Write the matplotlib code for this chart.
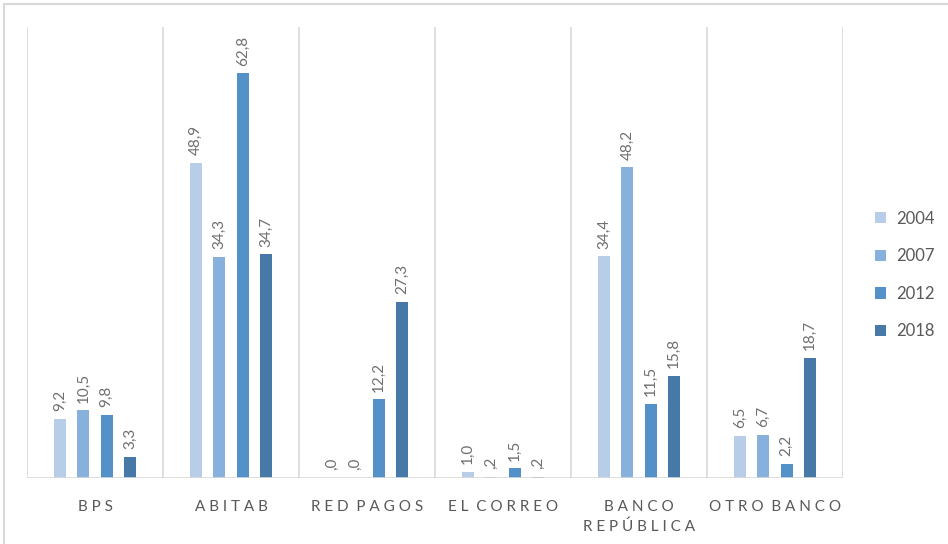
import matplotlib
matplotlib.use("Agg")
from matplotlib import pyplot as plt
from matplotlib.patches import Rectangle
import numpy as np

# Data
categories = ["B P S", "A B I T A B", "R E D  P A G O S", "E L  C O R R E O",
              "B A N C O\nR E P Ú B L I C A", "O T R O  B A N C O"]
years = ["2004", "2007", "2012", "2018"]
v2004 = [9.2, 48.9, 0.0, 1.0, 34.4, 6.5]
v2007 = [10.5, 34.3, 0.0, 0.2, 48.2, 6.7]
v2012 = [9.8, 62.8, 12.2, 1.5, 11.5, 2.2]
v2018 = [3.3, 34.7, 27.3, 0.2, 15.8, 18.7]
series = [v2004, v2007, v2012, v2018]
colors = ["#B8CDE8", "#88B0DD", "#5591C9", "#4678A8"]

plt.rcParams['font.family'] = ['Lato', 'DejaVu Sans']
grey = "#595959"
line_col = "#D9D9D9"


def fmt(v):
    s = f"{v:.1f}".replace('.', ',')
    if s.startswith("0,"):
        s = s[1:]
    return s


fig = plt.figure(figsize=(9.48, 5.44), dpi=100)
ax = fig.add_axes([27/948, 66/544, 816/948, 451/544])

x = np.arange(len(categories))
step = 0.171
width = 0.09
for i, vals in enumerate(series):
    pos = x + (i - 1.5) * step
    ax.bar(pos, vals, width=width, color=colors[i], label=years[i], zorder=3)
    for p, v in zip(pos, vals):
        ax.text(p, v + 1.2, fmt(v), rotation=90, ha='center', va='bottom',
                color="#6F6F6F", fontsize=11)

# separators and baseline
for b in np.arange(len(categories) + 1) - 0.5:
    ax.axvline(b, color=line_col, lw=1.2, zorder=1)
ax.axhline(0, color=line_col, lw=1.2, zorder=4)

ax.set_xlim(-0.5, len(categories) - 0.5)
ax.set_ylim(0, 70)
ax.set_yticks([])
ax.set_xticks(x)
ax.set_xticklabels(categories, color=grey, fontsize=11, linespacing=1.5)
ax.tick_params(axis='x', length=0, pad=16)
for s in ax.spines.values():
    s.set_visible(False)

leg = ax.legend(loc='center left', bbox_to_anchor=(875/948, 1 - 275/544),
                bbox_transform=fig.transFigure, frameon=False, fontsize=12,
                handlelength=0.65, handleheight=0.65, handletextpad=0.6,
                labelspacing=1.3, borderpad=0, borderaxespad=0)
for t in leg.get_texts():
    t.set_color(grey)

# outer chart border (top and left visible)
fig.patches.append(Rectangle((4/948, -0.1), 1.2, 1 - 4/544 + 0.1,
                             transform=fig.transFigure, fill=False,
                             edgecolor=line_col, lw=1.5))

fig.savefig("out.png", dpi=100, facecolor='white')
